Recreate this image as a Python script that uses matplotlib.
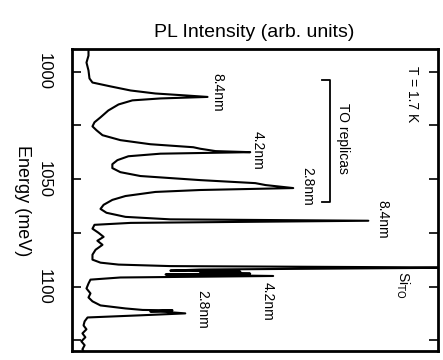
import numpy as np
import matplotlib
matplotlib.use('Agg')
import matplotlib.pyplot as plt
from matplotlib.ticker import MultipleLocator

plt.rcParams['font.family'] = ['Liberation Sans', 'DejaVu Sans']

# PL spectrum (energy in meV, intensity in arb. units)
energy = [989.4, 992.6, 995.8, 999.5, 1003.2, 1005.1, 1006.9, 1008.8, 1010.2, 1011.1,
          1011.8, 1012.5, 1013.4, 1015.3, 1018.1, 1021.3, 1023.6, 1025.5, 1027.3, 1029.6,
          1031.9, 1033.8, 1035.2, 1035.9, 1037.0, 1037.5, 1038.2, 1039.4, 1041.2, 1043.1,
          1044.9, 1046.8, 1048.6, 1050.5, 1051.9, 1052.8, 1054.2, 1055.1, 1056.0, 1057.9,
          1059.7, 1062.0, 1063.9, 1065.7, 1067.6, 1068.75, 1069.4, 1070.4, 1071.3, 1073.1,
          1075.0, 1076.9, 1078.7, 1080.6, 1082.9, 1085.2, 1087.5, 1088.9, 1089.8, 1090.5,
          1091.2, 1092.1, 1092.6, 1093.1, 1093.5, 1094.0, 1094.4, 1095.1, 1095.8, 1096.8,
          1098.6, 1100.9, 1103.2, 1105.1, 1106.9, 1108.8, 1110.2, 1110.9, 1111.1, 1111.6,
          1111.8, 1112.5, 1113.4, 1114.4, 1116.2, 1118.1, 1119.9, 1121.8, 1123.6, 1125.5,
          1127.3, 1129.2, 1130.1]
intensity = [4.66, 4.66, 4.11, 4.66, 4.93, 5.75, 10.7, 16.2, 23.0, 31.2,
             37.3, 24.4, 16.7, 12.9, 10.1, 7.95, 6.3, 5.75, 6.85, 8.5,
             13.4, 21.6, 33.4, 35.3, 39.5, 49.0, 24.4, 15.6, 12.6, 11.2,
             11.2, 13.4, 18.9, 35.3, 50.4, 53.2, 60.8, 35.3, 23.0, 14.8,
             11.2, 8.8, 7.95, 9.6, 14.8, 27.1, 81.4, 16.2, 6.3, 5.75,
             7.4, 8.8, 7.1, 8.5, 6.6, 5.75, 5.75, 7.95, 12.9, 27.1,
             110.0, 35.3, 27.1, 46.3, 35.3, 49.0, 25.8, 55.3, 13.4, 5.2,
             4.66, 4.11, 5.2, 4.66, 5.75, 7.95, 14.8, 19.5, 27.7, 21.6,
             25.8, 31.2, 18.9, 4.4, 3.6, 3.3, 4.1, 3.0, 3.8, 2.7,
             3.6, 3.0, 3.3]

peak_labels = ['8.4nm', '4.2nm', '2.8nm', '8.4nm', '4.2nm', '2.8nm']
peak_label_I = [40.0, 51.0, 64.7, 85.2, 53.7, 35.9]
peak_label_E = [1009.5, 1036.7, 1053.3, 1068.6, 1106.7, 1110.5]

fig = plt.figure(figsize=(4.43, 3.60), dpi=100)
ax = fig.add_axes([0.1614, 0.025, 0.8273, 0.8389])

ax.plot(intensity, energy, color='black', lw=1.5)

ax.set_xlim(0, 100.5)
ax.set_ylim(1130.0, 989.5)
ax.set_xticks([])

ax.yaxis.set_major_locator(MultipleLocator(50))
ax.yaxis.set_minor_locator(MultipleLocator(25))
ax.tick_params(axis='y', which='both', direction='in', left=True, right=True,
               length=6.5, width=1.2, pad=14)
ax.tick_params(axis='y', which='major', labelsize=12)
for lab in ax.get_yticklabels():
    lab.set_rotation(270)
    lab.set_va('center')

for sp in ax.spines.values():
    sp.set_linewidth(2.0)

for txt, xi, ye in zip(peak_labels, peak_label_I, peak_label_E):
    ax.text(xi, ye, txt, rotation=270, ha='center', va='center', fontsize=10)

ax.text(93.4, 1010.5, 'T = 1.7 K', rotation=270, ha='center', va='center', fontsize=10)
ax.text(74.5, 1030.9, 'TO replicas', rotation=270, ha='center', va='center', fontsize=10)
ax.text(90.7, 1099.3, r'Si$_{\mathrm{TO}}$', rotation=270, ha='center', va='center', fontsize=10)

# bracket for TO replicas
ax.plot([68.8, 70.8, 70.8, 68.8], [1004.0, 1004.0, 1060.7, 1060.7], color='black', lw=1.3)

fig.text(0.573, 0.911, 'PL Intensity (arb. units)', ha='center', va='center', fontsize=14)
fig.text(0.0497, 0.4417, 'Energy (meV)', rotation=270, ha='center', va='center', fontsize=13)

fig.savefig('out.png', dpi=100)
plt.close(fig)
